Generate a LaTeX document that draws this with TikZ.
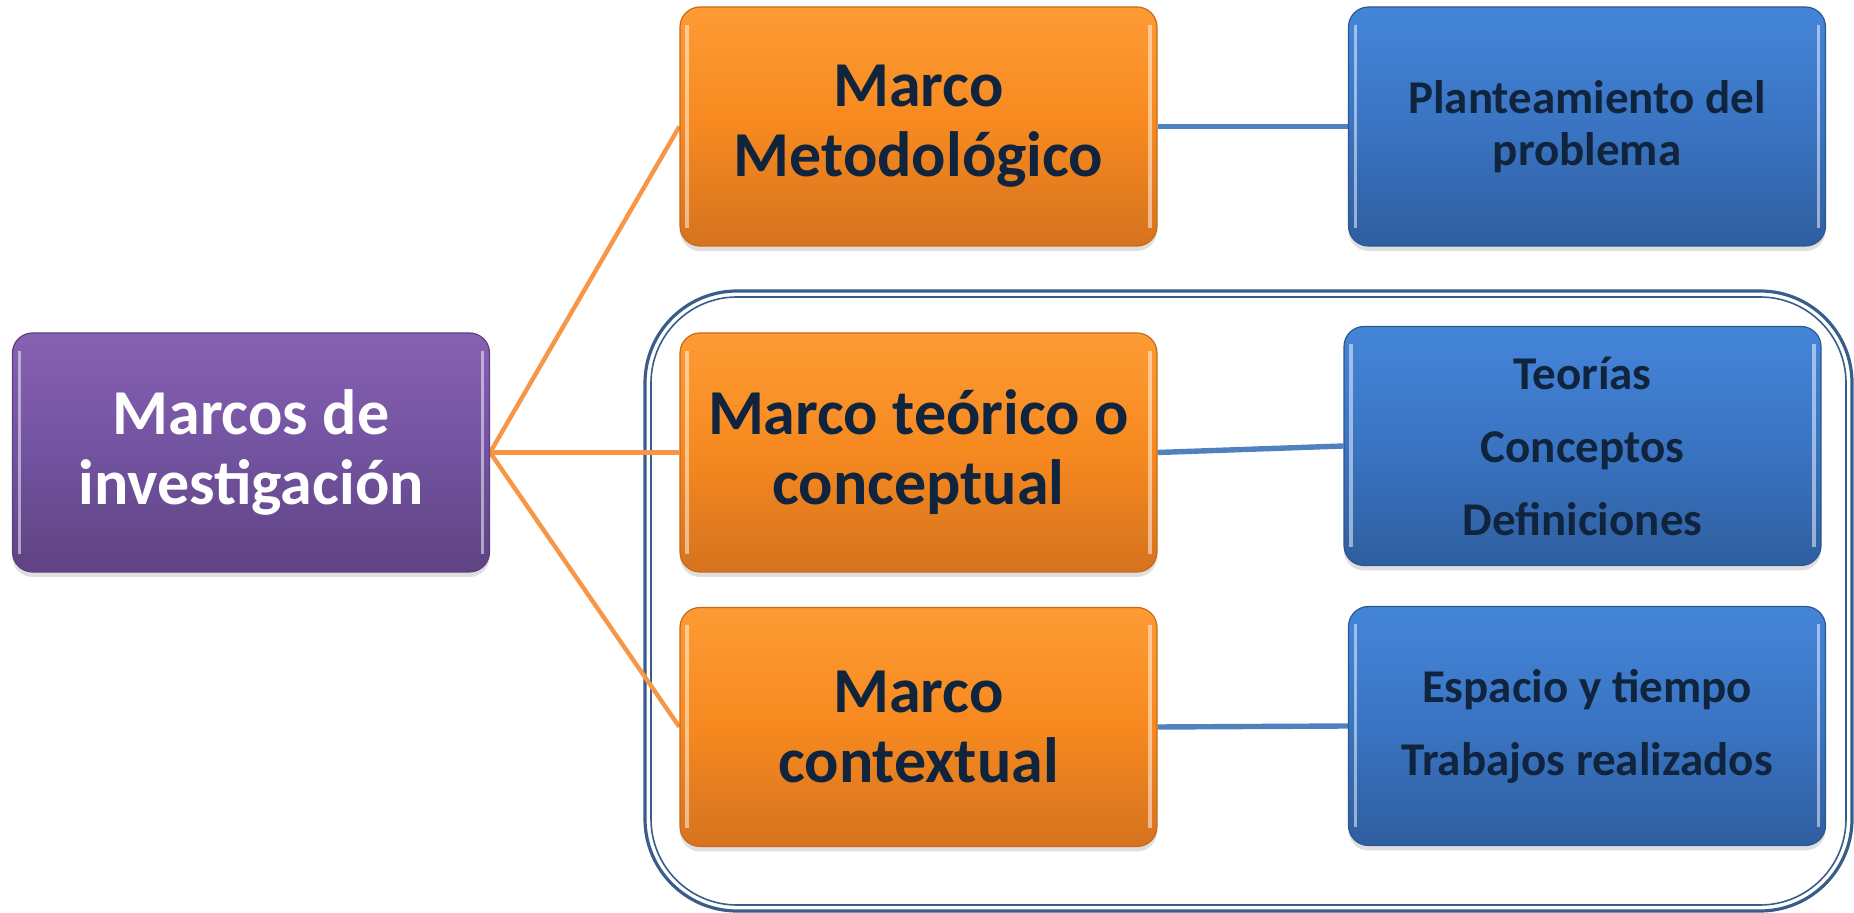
\documentclass[tikz,border=0pt]{standalone}
\usepackage{fontspec}
\setmainfont{Carlito}
\usetikzlibrary{shadows,backgrounds}
\definecolor{txtnavy}{HTML}{10243E}
\definecolor{orlinec}{HTML}{F79646}
\definecolor{bllinec}{HTML}{4F81BD}
\definecolor{framec}{HTML}{385D8A}
\definecolor{purd}{HTML}{5A4080}
\definecolor{purt}{HTML}{8761B2}
\definecolor{purm}{HTML}{7253A0}
\definecolor{purb}{HTML}{5F4382}
\definecolor{ord}{HTML}{C7691A}
\definecolor{ort}{HTML}{FE9B34}
\definecolor{orm}{HTML}{F6891F}
\definecolor{orb}{HTML}{D6731F}
\definecolor{bld}{HTML}{2C5890}
\definecolor{blt}{HTML}{4485D8}
\definecolor{blm}{HTML}{3A74C3}
\definecolor{blb}{HTML}{2F5E9F}
\tikzset{
  glossy/.style={
    path picture={
      \draw[white,opacity=0.5,line width=1.8pt]
        ([xshift=3.5pt,yshift=-9pt]path picture bounding box.north west) --
        ([xshift=3.5pt,yshift=9pt]path picture bounding box.south west);
      \draw[white,opacity=0.5,line width=1.8pt]
        ([xshift=-3.5pt,yshift=-9pt]path picture bounding box.north east) --
        ([xshift=-3.5pt,yshift=9pt]path picture bounding box.south east);
    }},
  boxbase/.style={rectangle, rounded corners=10pt, align=center, line width=0.6pt,
    minimum width=238.5pt, minimum height=119.5pt, inner sep=0pt, glossy,
    drop shadow={opacity=0.25, shadow xshift=0pt, shadow yshift=-2.5pt}},
  purplebox/.style={boxbase, draw=purd, top color=purt, bottom color=purb,
    middle color=purm, text=white, font=\bfseries\fontsize{32}{35}\selectfont},
  orangebox/.style={boxbase, draw=ord, top color=ort, bottom color=orb,
    middle color=orm, text=txtnavy, font=\bfseries\fontsize{32}{35}\selectfont},
  bluebox/.style={boxbase, draw=bld, top color=blt, bottom color=blb,
    middle color=blm, text=txtnavy, font=\bfseries\fontsize{23.5}{36.5}\selectfont},
  orline/.style={draw=orlinec, line width=2.2pt},
  blline/.style={draw=bllinec, line width=2.7pt},
}
\begin{document}
\begin{tikzpicture}[x=0.5pt,y=-0.5pt]
\useasboundingbox (0,0) rectangle (1854,913);
% nodes
\node[purplebox] (inv) at (251,452.5) {Marcos de\\investigación};
\node[orangebox] (met) at (918.5,126.5) {Marco\\Metodológico};
\node[orangebox] (teo) at (918.5,452.5) {Marco teórico o\\conceptual};
\node[orangebox] (ctx) at (918.5,727) {Marco\\contextual};
\node[bluebox, font=\bfseries\fontsize{23.5}{26}\selectfont] (pla) at (1587,126.5) {Planteamiento del\\problema};
\node[bluebox] (tco) at (1582.5,446) {Teorías\\Conceptos\\Definiciones};
\node[bluebox] (esp) at (1587,726) {Espacio y tiempo\\Trabajos realizados};
\begin{pgfonlayer}{background}
% frame
\draw[framec, line width=1.6pt, rounded corners=46pt] (645,291) rectangle (1852,911);
\draw[framec, line width=0.8pt, rounded corners=43pt] (651,297) rectangle (1846,905);
% connectors
\draw[orline] (inv.east) -- (met.west);
\draw[orline] (inv.east) -- (teo.west);
\draw[orline] (inv.east) -- (ctx.west);
\draw[blline] (met.east) -- (pla.west);
\draw[blline] (teo.east) -- (tco.west);
\draw[blline] (ctx.east) -- (esp.west);
\end{pgfonlayer}
\end{tikzpicture}
\end{document}
